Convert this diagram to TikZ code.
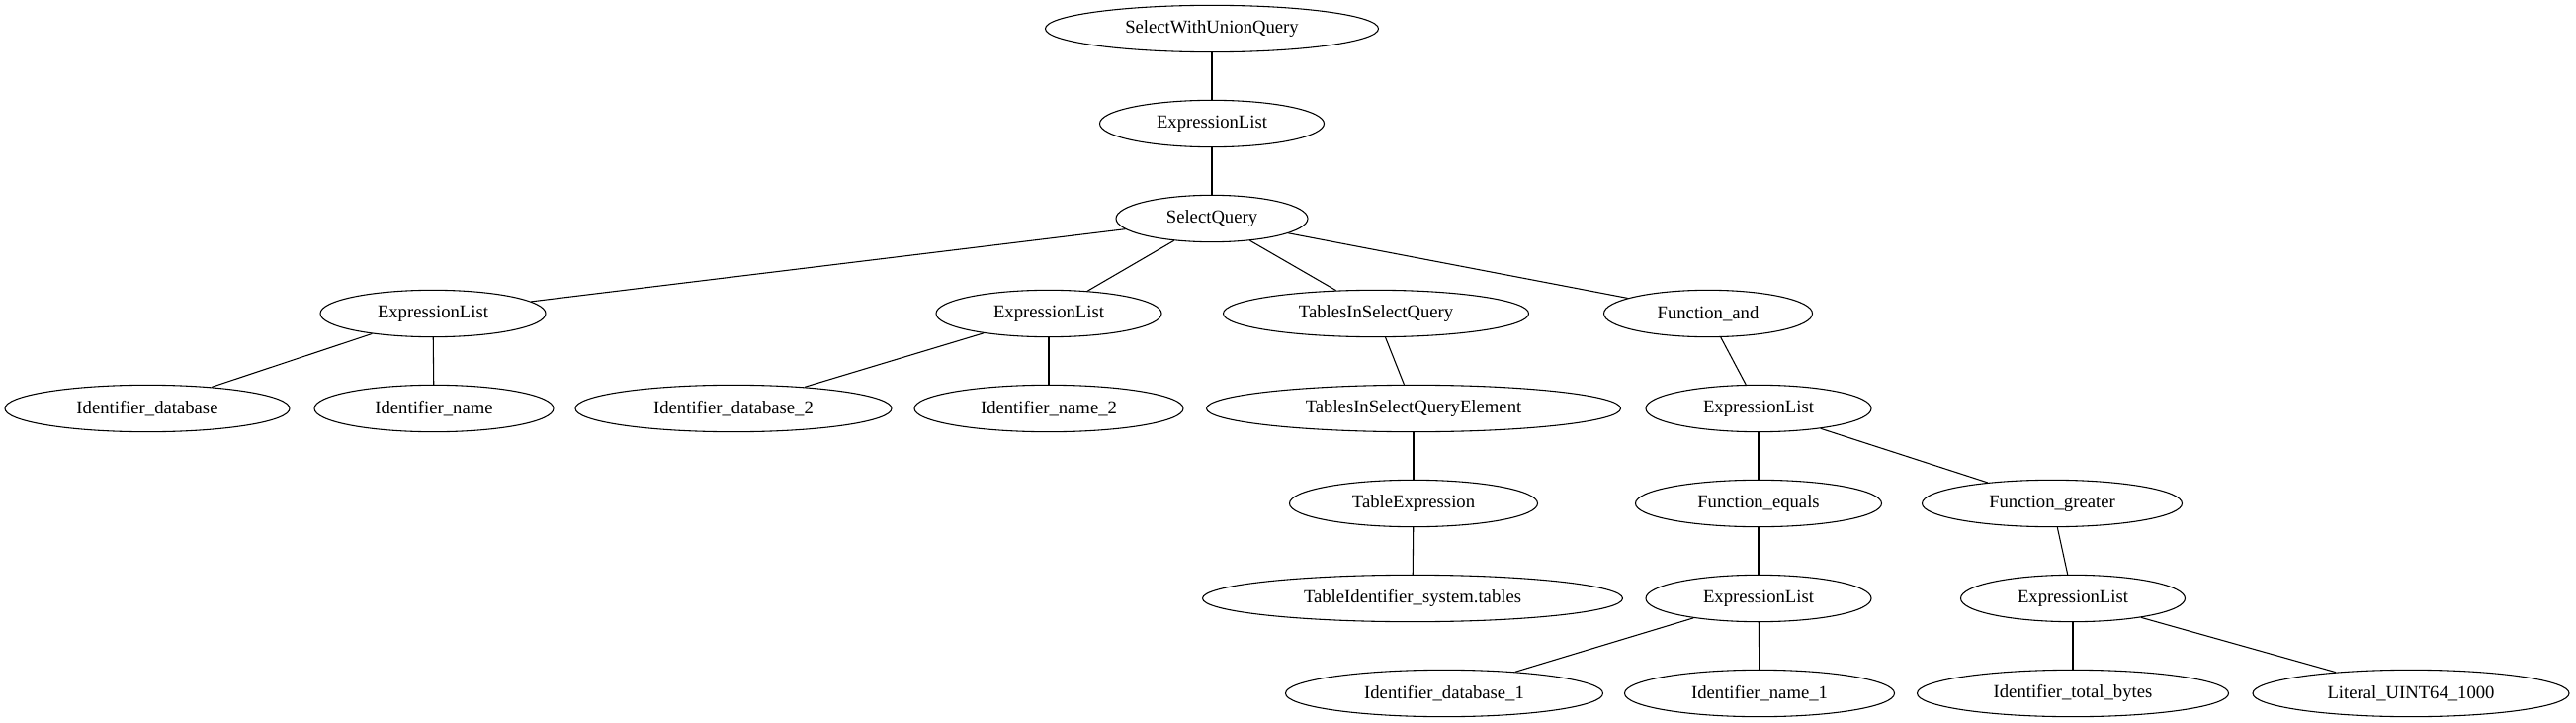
\documentclass[tikz,border=0pt]{standalone}
\usepackage{fontspec}
\setmainfont{Liberation Serif}
\usetikzlibrary{shapes.geometric}
\begin{document}
\begin{tikzpicture}[x=0.75pt,y=-0.75pt,
  tn/.style={ellipse, draw, line width=0.8pt, inner sep=0pt, minimum height=35.5pt, font=\fontsize{14}{16}\selectfont},
  edge/.style={line width=0.8pt}]
\fill[white] (0,0) rectangle (2606,731);
\useasboundingbox (0,0) rectangle (2606,731);
% rows: 29 125 221 317 413 509 605 701
\node[tn, minimum width=252.75pt] (swuq) at (1226,29) {SelectWithUnionQuery};
\node[tn, minimum width=170.25pt] (el0) at (1226,125) {ExpressionList};
\node[tn, minimum width=145.5pt] (sq) at (1226,221) {SelectQuery};
\node[tn, minimum width=171pt] (el1) at (438,317) {ExpressionList};
\node[tn, minimum width=171pt] (el2) at (1061,317) {ExpressionList};
\node[tn, minimum width=231.75pt] (tisq) at (1392,317) {TablesInSelectQuery};
\node[tn, minimum width=158.25pt] (fand) at (1728,317) {Function\_and};
\node[tn, minimum width=216pt] (iddb) at (149,413) {Identifier\_database};
\node[tn, minimum width=181.5pt] (idname) at (439,413) {Identifier\_name};
\node[tn, minimum width=240pt] (iddb2) at (742,413) {Identifier\_database\_2};
\node[tn, minimum width=204pt] (idname2) at (1061,413) {Identifier\_name\_2};
\node[tn, minimum width=314.25pt] (tisqe) at (1430,413) {TablesInSelectQueryElement};
\node[tn, minimum width=171pt] (el3) at (1779,413) {ExpressionList};
\node[tn, minimum width=188.25pt] (te) at (1430,509) {TableExpression};
\node[tn, minimum width=186.75pt] (feq) at (1779,509) {Function\_equals};
\node[tn, minimum width=197.25pt] (fgt) at (2076,509) {Function\_greater};
\node[tn, minimum width=318.75pt] (ti) at (1429,605) {TableIdentifier\_system.tables};
\node[tn, minimum width=171pt] (el4) at (1779,605) {ExpressionList};
\node[tn, minimum width=170.25pt] (el5) at (2097,605) {ExpressionList};
\node[tn, minimum width=240.75pt] (iddb1) at (1461,701) {Identifier\_database\_1};
\node[tn, minimum width=204.75pt] (idname1) at (1780,701) {Identifier\_name\_1};
\node[tn, minimum width=236.25pt] (idtb) at (2097,701) {Identifier\_total\_bytes};
\node[tn, minimum width=240pt] (lit) at (2439,701) {Literal\_UINT64\_1000};
\foreach \a/\b in {swuq/el0, el0/sq, sq/el1, sq/el2, sq/tisq, sq/fand,
  el1/iddb, el1/idname, el2/iddb2, el2/idname2, tisq/tisqe, tisqe/te, te/ti,
  fand/el3, el3/feq, el3/fgt, feq/el4, fgt/el5, el4/iddb1, el4/idname1,
  el5/idtb, el5/lit}
  \draw[edge] (\a) -- (\b);
\end{tikzpicture}
\end{document}
